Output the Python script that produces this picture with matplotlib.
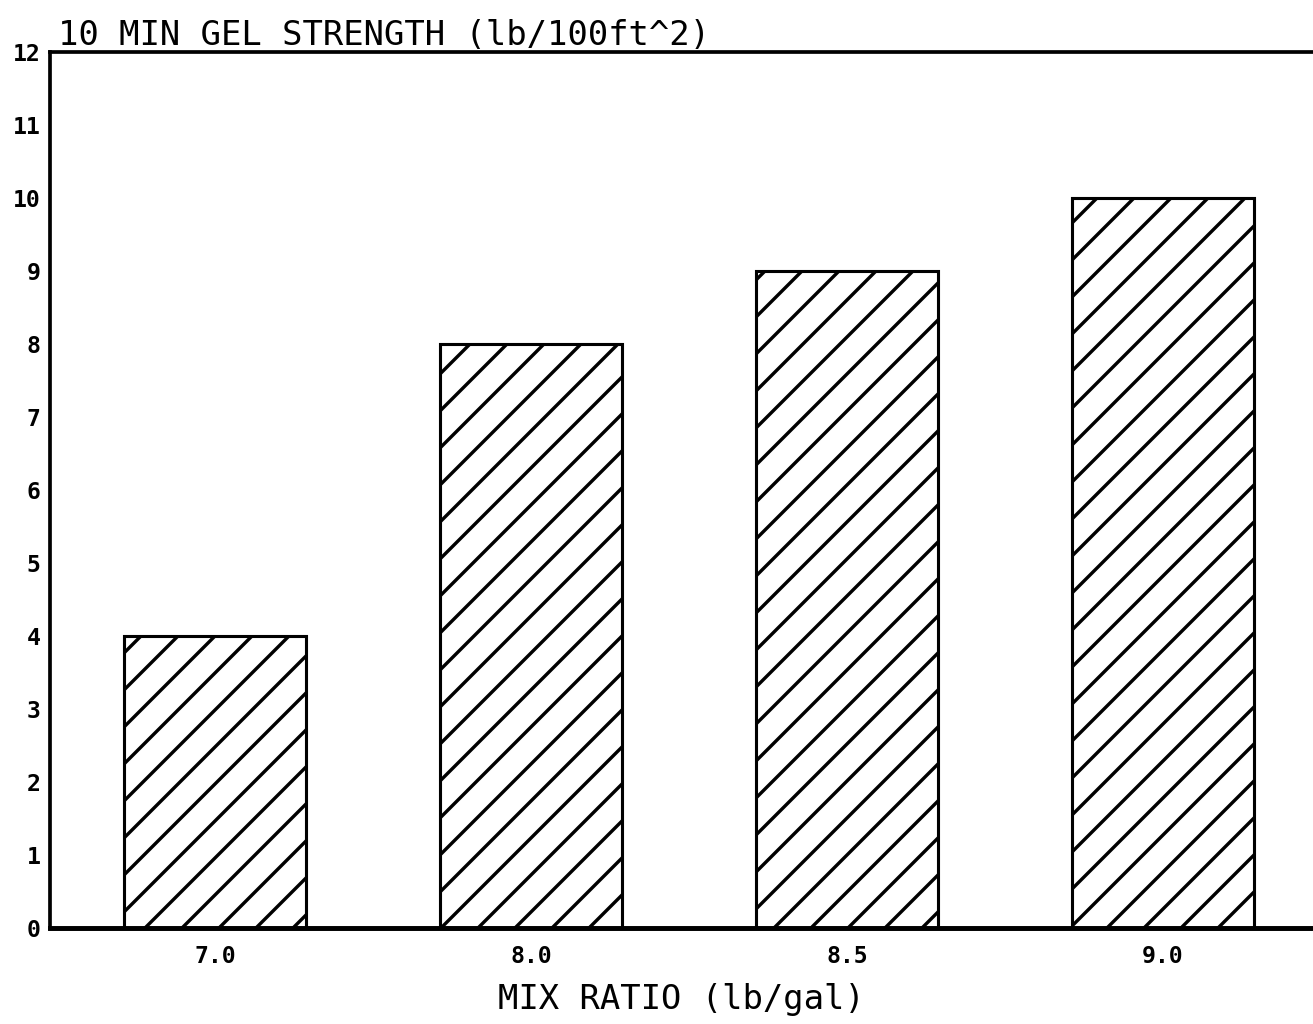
import matplotlib
matplotlib.use("Agg")
import matplotlib.pyplot as plt

categories = ["7.0", "8.0", "8.5", "9.0"]
gel_strength = [4.0, 8.0, 9.0, 10.0]
y_ticks = list(range(0, 13))

DPI = 222
plt.rcParams['hatch.linewidth'] = 1.1
plt.rcParams['font.family'] = ['DejaVu Sans Mono', 'DejaVu Sans']

fig = plt.figure(figsize=(1313 / DPI, 1024 / DPI), dpi=DPI)
ax = fig.add_axes([50 / 1313, 1 - 928 / 1024, 1 - 50 / 1313, (928 - 52) / 1024])

x = list(range(len(categories)))
ax.bar(x, gel_strength, width=0.575, color='white', edgecolor='black',
       linewidth=1.0, hatch='//')

ax.set_xlim(-0.522, 3.475)
ax.set_ylim(0, 12)
ax.set_xticks(x)
ax.set_xticklabels(categories, fontweight='bold', fontsize=7.5)
ax.set_yticks(y_ticks)
ax.set_yticklabels([str(v) for v in y_ticks], fontweight='bold', fontsize=7.5)
ax.tick_params(axis='both', length=0)
ax.tick_params(axis='x', pad=5.5)
ax.tick_params(axis='y', pad=3)

ax.spines['right'].set_visible(False)
ax.spines['left'].set_linewidth(1.2)
ax.spines['top'].set_linewidth(1.2)
ax.spines['bottom'].set_linewidth(1.6)

ax.set_title("10 MIN GEL STRENGTH (lb/100ft^2)", loc='left', fontsize=11, pad=2,
             x=0.006)
ax.set_xlabel("MIX RATIO (lb/gal)", fontsize=11, labelpad=5)

fig.savefig("out.png", dpi=DPI)
